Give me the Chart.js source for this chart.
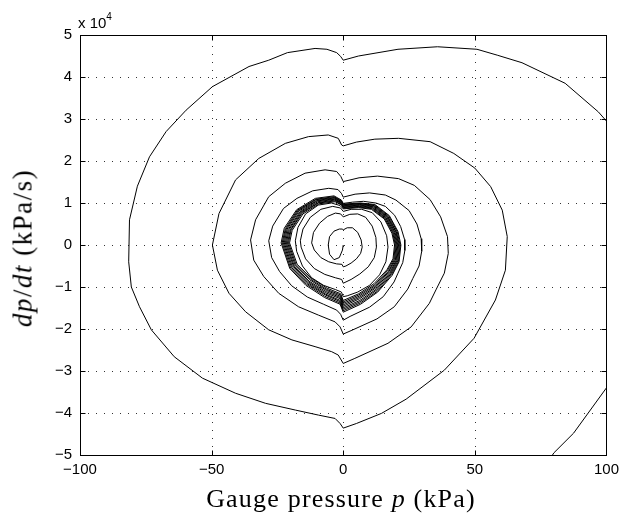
<!DOCTYPE html>
<html><head><meta charset="utf-8">
<script src="https://cdn.jsdelivr.net/npm/chart.js@4.4.1/dist/chart.umd.min.js"></script>
<style>
html,body{margin:0;padding:0;background:#fff;}
#wrap{position:relative;width:625px;height:518px;overflow:hidden;background:#fff;}
#c{position:absolute;left:0;top:0;}
.ser{position:absolute;font-family:"Liberation Serif","Times New Roman",serif;color:#000;white-space:nowrap;line-height:1;}
#xtitle{left:341px;top:499px;font-size:26px;letter-spacing:1.2px;transform:translate(-50%,-50%);}
#ytitle{left:23px;top:248px;font-size:27px;letter-spacing:1.5px;transform:translate(-50%,-50%) rotate(-90deg);}
#expo{position:absolute;left:78px;top:15px;font-family:"Liberation Sans",Arial,sans-serif;font-size:15px;line-height:1;color:#000;white-space:nowrap;}
#expo sup{font-size:10px;position:relative;top:-3px;vertical-align:top;}
</style></head>
<body><div id="wrap"><canvas id="c" width="625" height="518"></canvas>
<div id="expo">x 10<sup>4</sup></div>
<div id="xtitle" class="ser">Gauge pressure <i>p</i> (kPa)</div>
<div id="ytitle" class="ser"><i>dp</i>/<i>dt</i> (kPa/s)</div>
</div>
<script>
// Axis tick values
const xTicks = [-100, -50, 0, 50, 100];
const yTicksE4 = [-5, -4, -3, -2, -1, 0, 1, 2, 3, 4, 5];
const dpdtUnit = 1e4; // dp/dt values below are given in units of 10^4 kPa/s

// Inner loops (start at origin, spiraling out) : p in kPa, dp/dt in 1e4 kPa/s
const innerP = [0,-0.3,-1.5,-3.5,-5.2,-5.7,-5.2,-3.5,-1.5,-0.4,
 0,1.5,3.5,5.5,6.8,7.2,6.6,5,3,1,
 0,-0.5,-2.5,-5.5,-8.5,-11,-12,-11.3,-9,-6,-3,-1,
 0,2.5,5.5,8.5,11,12.4,12.6,11.8,9.5,6.3,3,
 0,-0.6,-3,-7,-11,-14.3,-16,-16.3,-15.3,-12.5,-8.5,-4,-1,
 0,3,7,11,14.3,16.5,17,16.2,13.8,10,5.5,1.5,
 0,-0.7,-3,-7.5,-12,-15.5,-17.7,-18.2,-17.2,-14.3,-9.5,-4.5,-1.2];
const innerV = [0,-0.12,-0.3,-0.35,-0.22,0,0.2,0.33,0.38,0.38,
 0.36,0.41,0.41,0.30,0.12,-0.05,-0.2,-0.33,-0.43,-0.5,
 -0.52,-0.46,-0.45,-0.40,-0.30,-0.12,0.05,0.3,0.52,0.68,0.76,0.74,
 0.67,0.73,0.74,0.66,0.45,0.18,-0.05,-0.3,-0.52,-0.69,-0.82,
 -0.91,-0.82,-0.78,-0.70,-0.56,-0.33,-0.05,0.1,0.38,0.66,0.85,0.92,0.88,
 0.80,0.85,0.85,0.77,0.55,0.22,-0.05,-0.4,-0.71,-0.96,-1.12,-1.21,
 -1.23,-1.12,-1.06,-0.96,-0.78,-0.5,-0.15,0.1,0.42,0.74,0.95,1.0,0.94];

// Dense band of loops (near-limit-cycle)
const bandP = [0,5.9,10.7,15.6,18.5,19.5,18.9,16.6,11.7,5.9,
 0,-1.0,-6.1,-12.2,-17.5,-20.4,-19.4,-15.3,-9.2,-3.1,-0.6,
 0,5.9,10.9,15.8,18.8,19.8,19.2,16.8,11.9,5.9,
 0,-1.0,-6.2,-12.5,-17.9,-20.8,-19.8,-15.6,-9.4,-3.1,-0.6,
 0,6.0,11.1,16.1,19.1,20.1,19.5,17.1,12.1,6.0,
 0,-1.1,-6.4,-12.7,-18.2,-21.2,-20.1,-15.9,-9.5,-3.2,-0.6,
 0,6.1,11.2,16.3,19.4,20.4,19.8,17.3,12.2,6.1,
 0,-1.1,-6.5,-13.0,-18.6,-21.6,-20.5,-16.2,-9.7,-3.2,-0.6,
 0,6.2,11.4,16.6,19.7,20.7,20.1,17.6,12.4,6.2,
 0,-1.1,-6.6,-13.2,-18.9,-22.0,-20.9,-16.5,-9.9,-3.3,-0.7,
 0,6.3,11.6,16.8,20.0,21.0,20.4,17.9,12.6,6.3,
 0,-1.1,-6.7,-13.4,-19.3,-22.4,-21.3,-16.8,-10.1,-3.4,-0.7,
 0,6.4,11.7,17.0,20.2,21.3,20.7,18.1,12.8,6.4,
 0,-1.1,-6.8,-13.7,-19.6,-22.8,-21.7,-17.1,-10.3,-3.4,-0.7,
 0,6.5,11.9,17.3,20.5,21.6,21.0,18.4,13.0,6.5,
 0,-1.2,-7.0,-13.9,-20.0,-23.2,-22.0,-17.4,-10.4,-3.5,-0.7,
 0,6.6,12.0,17.5,20.8,21.9,21.2,18.6,13.1,6.6,
 0,-1.2,-7.1,-14.2,-20.3,-23.6,-22.4,-17.7,-10.6,-3.5,-0.7];
const bandV = [0.86,0.89,0.85,0.62,0.28,0,-0.33,-0.59,-0.92,-1.16,
 -1.32,-1.16,-1.03,-0.79,-0.46,0.05,0.35,0.74,0.98,1.03,0.95,
 0.875,0.905,0.865,0.63,0.29,0,-0.34,-0.61,-0.95,-1.19,
 -1.355,-1.19,-1.06,-0.81,-0.47,0.05,0.36,0.76,1.0,1.05,0.96,
 0.89,0.92,0.88,0.64,0.29,0,-0.35,-0.63,-0.97,-1.22,
 -1.39,-1.22,-1.08,-0.83,-0.49,0.05,0.36,0.77,1.01,1.07,0.98,
 0.905,0.935,0.895,0.65,0.30,0,-0.36,-0.64,-1.0,-1.25,
 -1.425,-1.25,-1.11,-0.86,-0.50,0.05,0.37,0.78,1.03,1.09,0.99,
 0.92,0.95,0.91,0.66,0.30,0,-0.37,-0.66,-1.02,-1.28,
 -1.46,-1.28,-1.14,-0.88,-0.51,0.05,0.37,0.79,1.05,1.10,1.01,
 0.935,0.965,0.925,0.67,0.31,0,-0.37,-0.67,-1.05,-1.32,
 -1.495,-1.32,-1.17,-0.90,-0.52,0.05,0.38,0.81,1.06,1.12,1.03,
 0.95,0.98,0.94,0.68,0.31,0,-0.38,-0.69,-1.07,-1.35,
 -1.53,-1.35,-1.19,-0.92,-0.54,0.05,0.38,0.82,1.08,1.13,1.04,
 0.96,0.99,0.95,0.69,0.32,0,-0.39,-0.70,-1.10,-1.38,
 -1.565,-1.38,-1.22,-0.94,-0.55,0.05,0.39,0.83,1.09,1.15,1.05,
 0.975,1.0,0.965,0.70,0.32,0,-0.40,-0.72,-1.12,-1.41,
 -1.60,-1.41,-1.25,-0.96,-0.56,0.05,0.40,0.84,1.11,1.17,1.07];

// Outer loops, growing until leaving the axes
const outerP = [0,3.5,7.7,12.4,16,19.5,21.8,23.3,23.4,22.6,20.8,19.3,15.2,10,2.6,
 0,-1,-2.5,-7.5,-13.6,-19.6,-24.2,-27.2,-28.3,-26.8,-22.7,-17.6,-11.6,-5.5,-2,-0.7,
 0,4.5,10,16,20,25,28,29.6,29.8,28.8,26.4,24.5,19.4,12.8,3.3,
 0,-1.2,-3.1,-9.4,-17,-24.5,-30.2,-34,-35.2,-33.3,-28.3,-22,-14.5,-6.9,-2.5,-0.9,
 0,6,13,21,27,33,37,39.6,39.9,38.4,35.2,32.7,25.8,17,4.4,
 0,-1.9,-4.4,-10.7,-19.5,-28.3,-37.1,-43.4,-47.8,-49.7,-47.2,-40.9,-32.1,-22,-13.2,-5.7,-1.9,-0.6,
 0,5,12,21,33,42,50,56,60.4,62.3,61.6,57.8,49.7,38.4,23.9,14.5,5,
 0,-1.2,-3.1,-9.4,-18.2,-29.5,-40.9,-53.5,-64.2,-72.9,-77.4,-80.5,-81.5,-81.2,-78.2,-73.6,-67.3,-59.7,-49.7,-35.8,-28.3,-21.2,-10.7,-6.2,-2.5,-1.0,
 0,5.8,20.8,35.8,50.8,58.5,67.9,84.3,96.9,100,103];
const outerV = [0.99,1.02,1.04,1.0,0.92,0.71,0.44,0.13,-0.13,-0.42,-0.67,-0.88,-1.23,-1.48,-1.70,
 -1.79,-1.65,-1.55,-1.41,-1.24,-0.97,-0.63,-0.3,0.1,0.45,0.87,1.11,1.29,1.35,1.32,1.23,
 1.14,1.21,1.24,1.19,1.07,0.82,0.5,0.15,-0.15,-0.5,-0.8,-1.05,-1.47,-1.76,-2.03,
 -2.12,-1.95,-1.83,-1.67,-1.47,-1.15,-0.75,-0.36,0.12,0.6,1.15,1.47,1.71,1.79,1.75,1.63,
 1.51,1.60,1.64,1.58,1.42,1.08,0.67,0.2,-0.2,-0.67,-1.07,-1.39,-1.95,-2.34,-2.70,
 -2.82,-2.62,-2.54,-2.42,-2.26,-2.02,-1.59,-1.15,-0.6,0,0.75,1.55,2.06,2.42,2.58,2.62,2.54,2.38,
 2.36,2.45,2.52,2.54,2.46,2.18,1.83,1.39,0.83,0.2,-0.6,-1.31,-2.22,-2.98,-3.67,-4.01,-4.25,
 -4.36,-4.25,-4.13,-4.05,-3.93,-3.77,-3.53,-3.17,-2.66,-2.02,-1.47,-1.0,-0.4,0.6,1.40,2.10,2.70,3.21,3.77,4.25,4.40,4.58,4.68,4.66,4.58,4.49,
 4.40,4.50,4.66,4.72,4.66,4.52,4.34,3.85,3.17,2.95,2.7];

// Part of the next loop re-entering at the lower right corner
const tailP = [101,100,87.5,80,79];
const tailV = [-3.25,-3.40,-4.48,-4.95,-5.05];

const toPts = (P, V) => P.map((p, i) => ({x: p, y: V[i] * dpdtUnit}));
const mainPts = toPts(innerP, innerV).concat(toPts(bandP, bandV), toPts(outerP, outerV));
const tailPts = toPts(tailP, tailV);

const fmt = v => (v < 0 ? '\u2212' + Math.abs(v) : String(v));
const tickFont = {family: '"Liberation Sans", Arial, sans-serif', size: 15};

const matlabAxes = {
  id: 'matlabAxes',
  beforeDatasetsDraw(chart) {
    const {ctx, chartArea: a, scales: {x, y}} = chart;
    ctx.save();
    ctx.strokeStyle = '#333';
    ctx.lineWidth = 1;
    ctx.setLineDash([1, 7]);
    xTicks.forEach(v => {
      if (v <= x.min || v >= x.max) return;
      const px = Math.round(x.getPixelForValue(v)) + 0.5;
      ctx.beginPath(); ctx.moveTo(px, a.bottom); ctx.lineTo(px, a.top); ctx.stroke();
    });
    yTicksE4.forEach(t => {
      const v = t * dpdtUnit;
      if (v <= y.min || v >= y.max) return;
      const py = Math.round(y.getPixelForValue(v)) + 0.5;
      ctx.beginPath(); ctx.moveTo(a.left, py); ctx.lineTo(a.right, py); ctx.stroke();
    });
    ctx.restore();
  },
  afterDraw(chart) {
    const {ctx, chartArea: a, scales: {x, y}} = chart;
    ctx.save();
    ctx.strokeStyle = '#000';
    ctx.lineWidth = 1;
    ctx.setLineDash([]);
    const L = Math.round(a.left) + 0.5, R = Math.round(a.right) + 0.5;
    const T = Math.round(a.top) + 0.5, B = Math.round(a.bottom) + 0.5;
    ctx.strokeRect(L, T, R - L, B - T);
    const tl = 5;
    ctx.beginPath();
    xTicks.forEach(v => {
      const px = Math.round(x.getPixelForValue(v)) + 0.5;
      ctx.moveTo(px, B); ctx.lineTo(px, B - tl);
      ctx.moveTo(px, T); ctx.lineTo(px, T + tl);
    });
    yTicksE4.forEach(t => {
      const py = Math.round(y.getPixelForValue(t * dpdtUnit)) + 0.5;
      ctx.moveTo(L, py); ctx.lineTo(L + tl, py);
      ctx.moveTo(R, py); ctx.lineTo(R - tl, py);
    });
    ctx.stroke();
    ctx.restore();
  }
};

new Chart(document.getElementById('c'), {
  type: 'scatter',
  data: {
    datasets: [
      {data: mainPts, showLine: true, borderColor: '#000', borderWidth: 1, pointRadius: 0, tension: 0, fill: false},
      {data: tailPts, showLine: true, borderColor: '#000', borderWidth: 1, pointRadius: 0, tension: 0, fill: false}
    ]
  },
  options: {
    responsive: false,
    animation: false,
    devicePixelRatio: 1,
    layout: {padding: {top: 35, right: 15, left: 0, bottom: 0}},
    plugins: {legend: {display: false}, tooltip: {enabled: false}},
    scales: {
      x: {
        type: 'linear', min: -100, max: 100,
        afterBuildTicks: s => { s.ticks = xTicks.map(v => ({value: v})); },
        afterFit: s => { s.height = 63; },
        grid: {display: false, drawTicks: false},
        border: {display: false},
        ticks: {color: '#000', font: tickFont, padding: 6, maxRotation: 0, callback: v => fmt(v)}
      },
      y: {
        type: 'linear', min: -5 * dpdtUnit, max: 5 * dpdtUnit,
        afterBuildTicks: s => { s.ticks = yTicksE4.map(t => ({value: t * dpdtUnit})); },
        afterFit: s => { s.width = 80; },
        grid: {display: false, drawTicks: false},
        border: {display: false},
        ticks: {color: '#000', font: tickFont, padding: 8, callback: v => fmt(Math.round(v / dpdtUnit))}
      }
    }
  },
  plugins: [matlabAxes]
});
</script>
</body></html>
